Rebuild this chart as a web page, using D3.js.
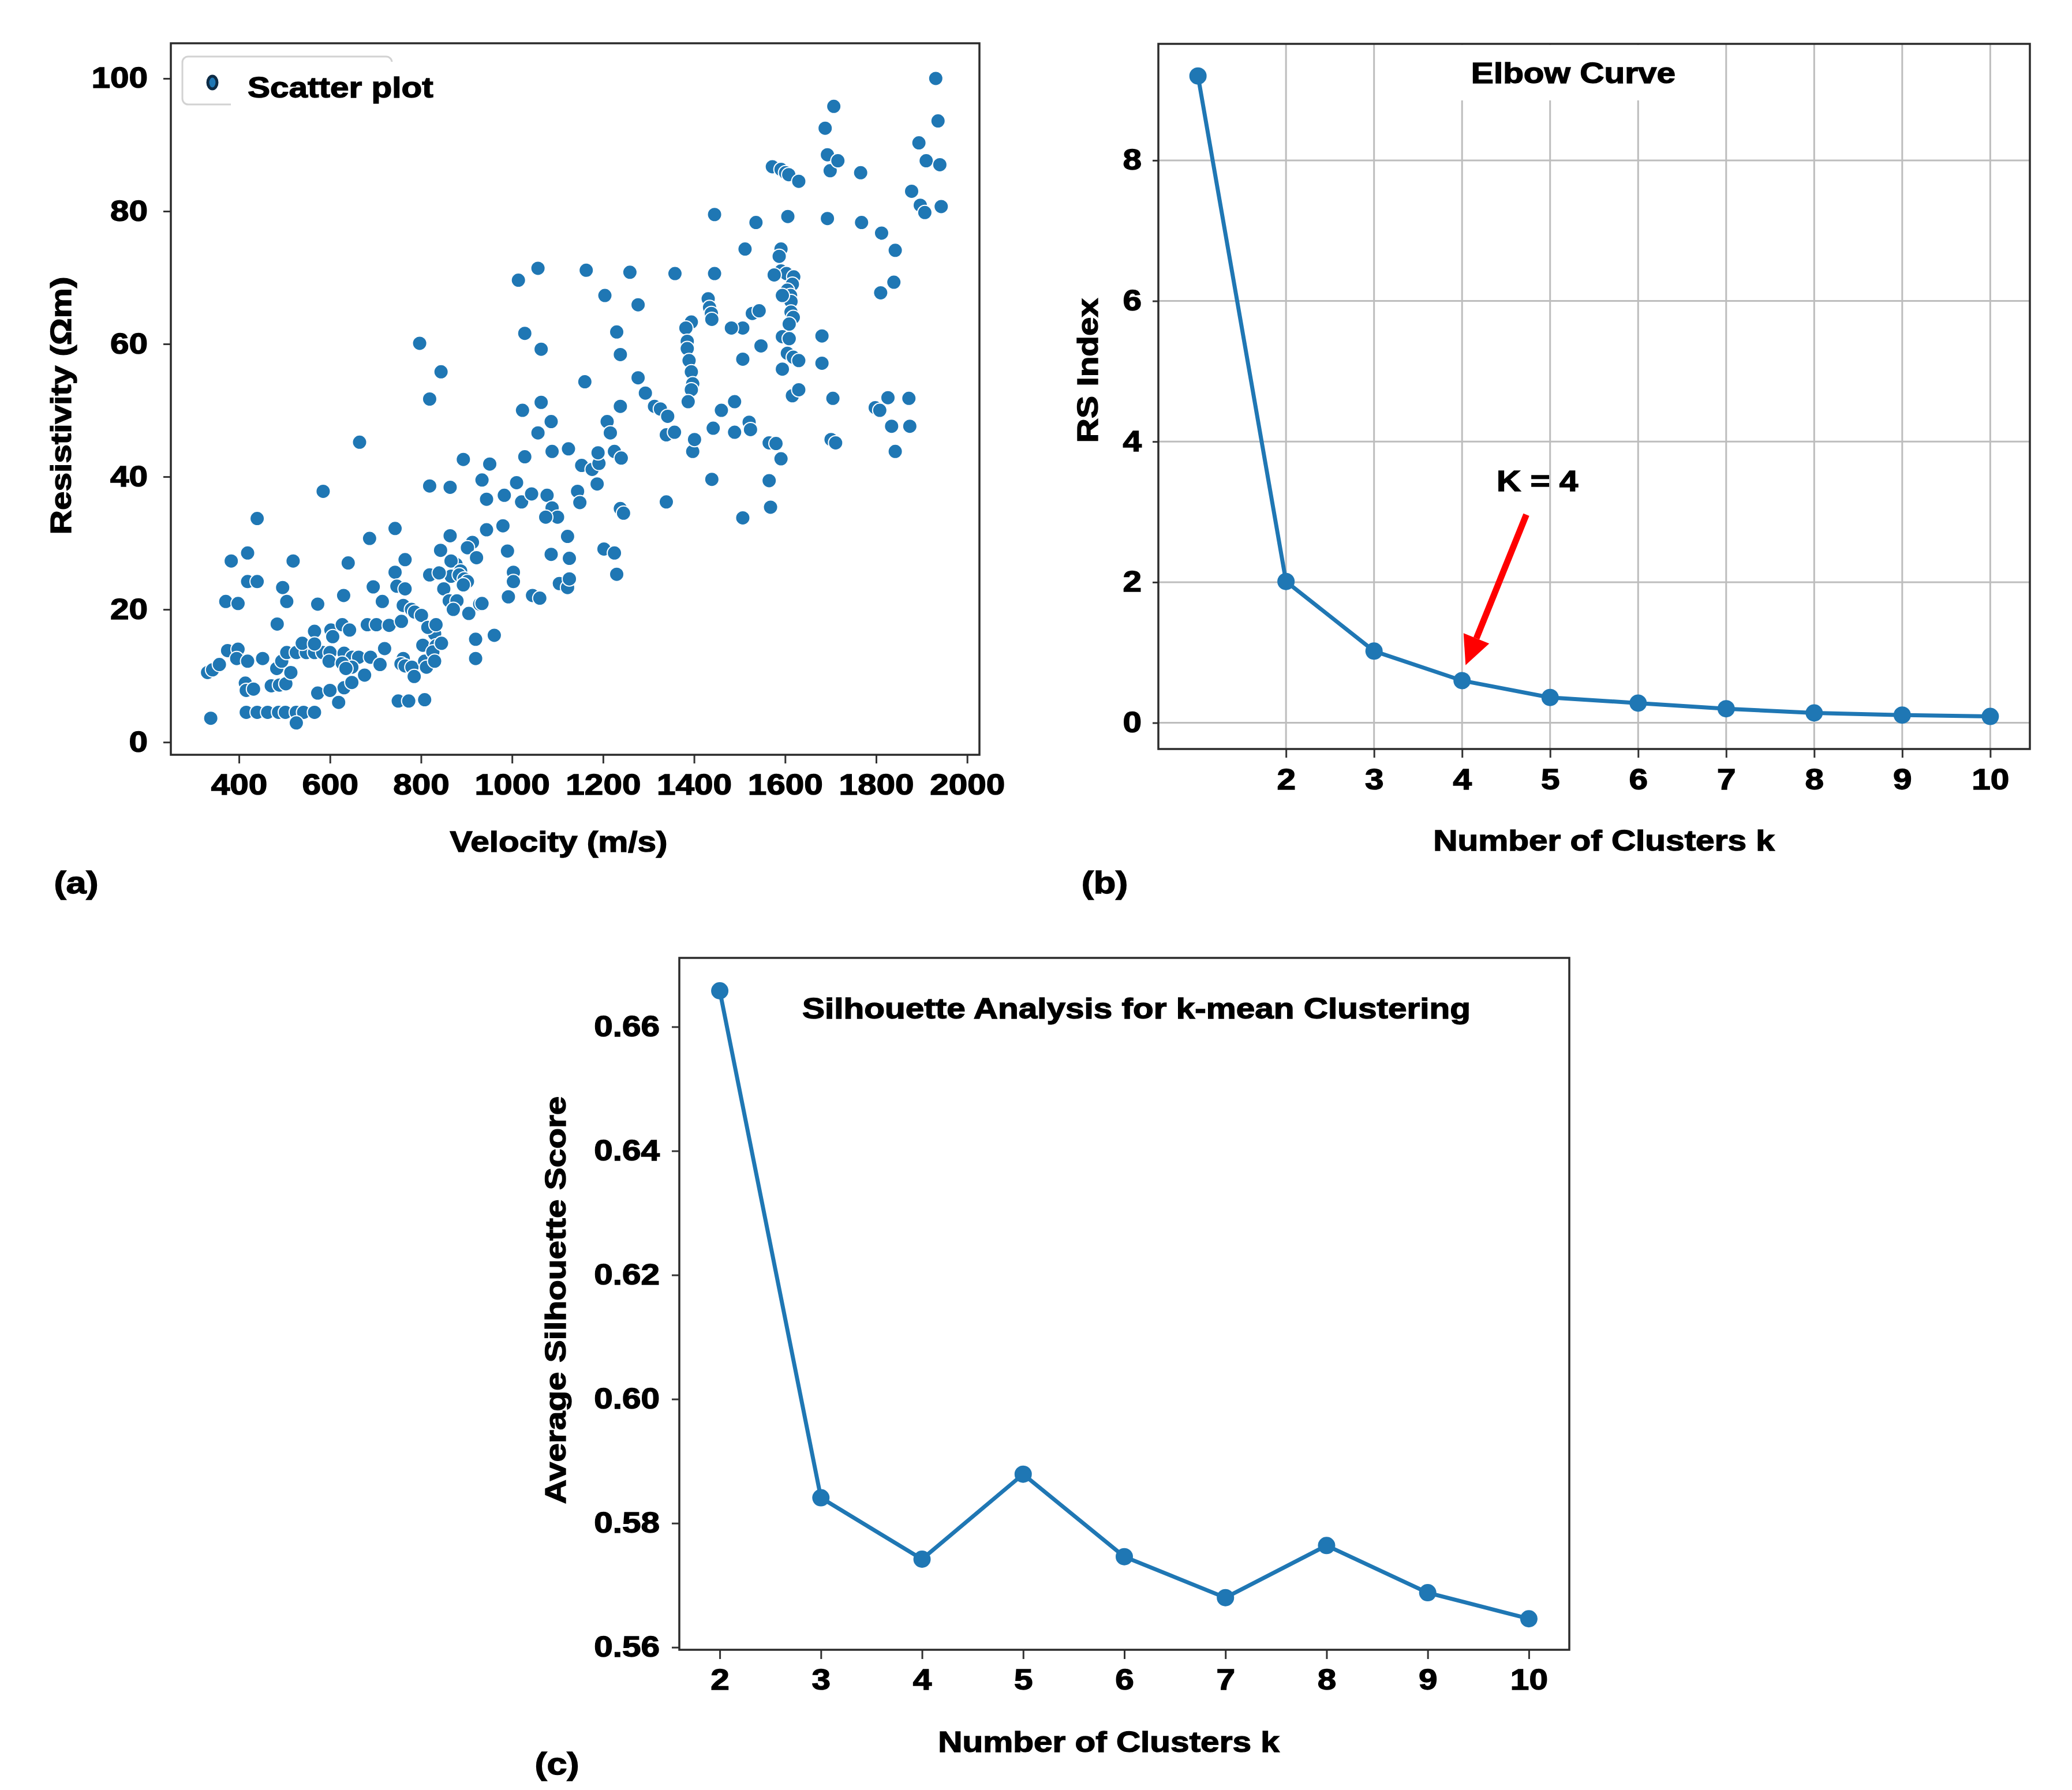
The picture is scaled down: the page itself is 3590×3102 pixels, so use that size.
<!DOCTYPE html>
<meta charset="utf-8">
<style>
  body { margin: 0; background: #fff; }
  text { font-family: "Liberation Sans", Arial, sans-serif; font-weight: bold; fill: #000;
         stroke: #000; stroke-width: 1.4px; }
</style>
<svg width="3590" height="3102"></svg>
<script src="https://d3js.org/d3.v7.min.js"></script>
<script>

// ---- data ----
// (a) scatter: velocity (m/s) vs resistivity (ohm m)
var velocity = [
  416, 440, 463, 487, 502, 526, 542, 566, 526, 338, 414, 416, 432, 471, 489, 503,
  331, 342, 357, 375, 398, 395, 419, 452, 483, 494, 505, 526, 548, 566, 584, 600,
  514, 484, 539, 566, 566, 602, 606, 598, 627, 643, 631, 649, 663, 689, 710, 648,
  627, 635, 631, 648, 676, 573, 600, 619, 682, 702, 730, 720, 757, 761, 779, 786,
  801, 761, 756, 765, 780, 785, 750, 773, 808, 804, 808, 812, 830, 833, 826, 830,
  815, 833, 845, 743, 747, 765, 765, 695, 715, 743, 687, 640, 630, 573, 519, 505,
  496, 440, 419, 383, 419, 440, 371, 398, 585, 665, 819, 864, 843, 864, 893, 934,
  944, 951, 944, 913, 902, 922, 877, 866, 887, 866, 884, 895, 902, 893, 819, 840,
  850, 862, 879, 871, 905, 929, 934, 920, 920, 961, 980, 983, 990, 1003, 1003, 992,
  1010, 1021, 1043, 1028, 1088, 1077, 1088, 1100, 1074, 1045, 1061, 1086, 1104, 1122, 1126, 1122,
  1126, 1124, 1144, 1149, 1153, 1176, 1191, 1189, 1187, 1202, 1225, 1230, 1225, 1240, 1238, 1245,
  1339, 1357, 1339,
  1014, 1057, 1163, 1259, 1358, 1204, 1277, 1028, 1230, 1064, 1238, 797, 844, 819, 1160, 1277,
  1293, 1313, 1326, 1342, 1023, 1064, 1086, 1238, 1209, 1216, 1057,
  1931, 1707, 1688, 1936, 1894, 1910, 1940, 1693, 1699, 1716, 1766, 1572, 1591, 1601, 1608, 1630,
  1878, 1897, 1907, 1943, 1445, 1536, 1606, 1693, 1768, 1812, 1512, 1591, 1842, 1587, 1591, 1603,
  1576, 1619, 1616, 1605, 1612, 1613, 1594, 1839, 1810, 1681, 1705, 1701, 1711, 1798, 1808, 1826,
  1872, 1834, 1874, 1842, 1681, 1613, 1618, 1609, 1594, 1609, 1605, 1594, 1618, 1630, 1616, 1630,
  1565, 1580, 1591, 1565, 1568, 1547, 1528, 1543, 1507, 1482, 1507, 1489, 1460, 1442, 1489, 1521,
  1524, 1507, 1439, 1431, 1434, 1438, 1439, 1445, 1394, 1382, 1385, 1385, 1389, 1394, 1397, 1394,
  1387, 1397, 1401
];
var resistivity = [
  4.5, 4.5, 4.5, 4.5, 4.5, 4.5, 4.5, 4.5, 2.9, 3.6, 8.9, 7.8, 8.0, 8.5, 8.6, 8.8,
  10.5, 10.9, 11.7, 13.8, 14.0, 12.6, 12.2, 12.6, 11.1, 12.2, 13.5, 13.5, 13.5, 13.5, 13.5, 13.5,
  10.5, 17.8, 14.9, 16.7, 14.8, 16.9, 15.9, 12.2, 17.7, 16.9, 13.4, 12.8, 12.8, 12.8, 11.7, 11.3,
  11.9, 11.1, 8.2, 9.0, 10.1, 7.4, 7.8, 6.0, 17.7, 17.7, 17.6, 14.1, 18.2, 20.6, 20.0, 19.6,
  19.1, 12.6, 11.8, 11.5, 11.3, 9.9, 6.2, 6.2, 6.4, 14.6, 12.2, 11.3, 16.3, 14.5, 13.6, 12.2,
  17.3, 17.7, 14.9, 25.6, 23.5, 23.1, 27.5, 23.4, 21.2, 32.2, 30.7, 27.0, 22.1, 20.8, 27.3, 21.2,
  23.3, 33.7, 28.5, 27.3, 24.2, 24.2, 21.2, 20.9, 37.8, 45.2, 38.6, 38.4, 28.9, 31.1, 42.6, 39.5,
  36.6, 41.9, 32.0, 30.1, 29.3, 27.8, 26.8, 27.3, 25.8, 25.0, 25.2, 24.6, 24.2, 23.7, 25.2, 25.5,
  23.1, 21.3, 21.3, 20.0, 19.4, 20.8, 20.9, 15.5, 12.6, 16.1, 32.6, 37.2, 28.8, 25.6, 24.2, 21.9,
  39.1, 36.2, 37.4, 43.0, 43.8, 37.2, 35.3, 33.9, 33.9, 22.1, 21.7, 28.3, 23.9, 23.3, 24.6, 31.0,
  27.7, 44.2, 37.8, 36.1, 41.7, 41.1, 42.0, 43.6, 38.9, 29.1, 28.5, 25.3, 43.8, 42.8, 35.2, 34.5,
  46.3, 46.7, 36.2,
  69.6, 71.4, 71.1, 70.8, 70.6, 67.3, 65.9, 61.6, 61.8, 59.2, 58.4, 60.1, 55.8, 51.7, 54.3, 54.9,
  52.6, 50.6, 50.2, 49.1, 50.0, 51.2, 48.3, 50.6, 48.3, 46.6, 46.6,
  100.0, 95.8, 92.5, 93.6, 90.3, 87.6, 87.0, 88.5, 86.1, 87.6, 85.8, 86.7, 86.3, 85.8, 85.5, 84.5,
  83.0, 80.9, 79.8, 80.7, 79.5, 78.3, 79.2, 78.9, 78.3, 76.7, 74.3, 74.3, 74.1, 73.2, 71.0, 70.6,
  70.4, 70.1, 69.0, 68.1, 67.3, 66.4, 67.3, 69.3, 67.7, 61.2, 51.8, 45.6, 45.1, 50.4, 50.0, 51.9,
  51.8, 47.6, 47.6, 43.8, 57.1, 64.8, 64.0, 63.0, 61.1, 60.8, 58.6, 56.2, 58.0, 57.5, 52.2, 53.1,
  45.1, 45.0, 42.7, 39.4, 35.4, 59.7, 64.6, 65.0, 62.4, 62.4, 57.7, 51.3, 50.0, 47.3, 46.7, 48.2,
  47.1, 33.8, 39.6, 66.8, 65.5, 64.6, 63.7, 70.6, 63.3, 62.4, 60.4, 59.3, 57.5, 55.8, 54.0, 53.1,
  51.3, 43.8, 45.6
];
var scatterXTicks = [400, 600, 800, 1000, 1200, 1400, 1600, 1800, 2000];
var scatterYTicks = [0, 20, 40, 60, 80, 100];

// (b) elbow curve
var elbowK = [1, 2, 3, 4, 5, 6, 7, 8, 9, 10];
var rsIndex = [9.2, 2.01, 1.02, 0.60, 0.36, 0.28, 0.20, 0.14, 0.11, 0.09];
var elbowXTicks = [2, 3, 4, 5, 6, 7, 8, 9, 10];
var elbowYTicks = [0, 2, 4, 6, 8];

// (c) silhouette
var silK = [2, 3, 4, 5, 6, 7, 8, 9, 10];
var silScore = [0.6658, 0.5841, 0.5742, 0.5879, 0.5746, 0.5680, 0.5764, 0.5688, 0.5646];
var silXTicks = [2, 3, 4, 5, 6, 7, 8, 9, 10];
var silYTicks = [0.56, 0.58, 0.60, 0.62, 0.64, 0.66];

// ---- style ----
var svg = d3.select("svg");
var blue = "#1f77b4";
var frameColor = "#2b2b2b";
var gridColor = "#bdbdbd";
var tickColor = "#333";
var fontSize = 50;
var stretch = 1.17;   // the figure's bold font is wider than Liberation Sans

svg.append("rect").attr("width", 3590).attr("height", 3102).attr("fill", "#fff");

function widen(sel, origin) {
  sel.style("transform-box", "fill-box")
     .style("transform-origin", origin || "center")
     .style("transform", "scaleX(" + stretch + ")");
}

function label(x, y, txt, size, rotate, anchor) {
  var g = svg.append("g")
      .attr("transform", "translate(" + x + "," + y + ")" + (rotate ? " rotate(-90)" : ""));
  var t = g.append("text")
      .attr("text-anchor", anchor || "middle")
      .attr("dy", "0.35em")
      .style("font-size", (size || fontSize) + "px")
      .text(txt);
  widen(t, anchor == "start" ? "left center" : "center");
  return t;
}

function axes(box, x, y, o) {
  var gx = svg.append("g")
      .attr("transform", "translate(0," + box.bottom + ")")
      .call(d3.axisBottom(x).tickValues(o.xTicks).tickSize(o.xTickSize)
            .tickPadding(o.xPad).tickFormat(o.xFormat));
  var gy = svg.append("g")
      .attr("transform", "translate(" + box.left + ",0)")
      .call(d3.axisLeft(y).tickValues(o.yTicks).tickSize(o.yTickSize)
            .tickPadding(o.yPad).tickFormat(o.yFormat));
  [gx, gy].forEach(function(g) {
    g.select(".domain").remove();
    g.selectAll(".tick line").attr("stroke", tickColor).attr("stroke-width", 3);
    g.selectAll(".tick text").style("font-size", fontSize + "px");
  });
  widen(gx.selectAll(".tick text"));
  widen(gy.selectAll(".tick text"), "right center");
}

function frame(box) {
  svg.append("rect")
      .attr("x", box.left).attr("y", box.top)
      .attr("width", box.right - box.left).attr("height", box.bottom - box.top)
      .attr("fill", "none")
      .attr("stroke", frameColor)
      .attr("stroke-width", 3.5);
}

// ================= (a) scatter =================
var boxA = {left: 296, right: 1697, top: 75, bottom: 1308};
var xA = d3.scaleLinear().domain([250.3, 2027]).range([boxA.left, boxA.right]);
var yA = d3.scaleLinear().domain([-1.9, 105.3]).range([boxA.bottom, boxA.top]);

svg.append("g").selectAll("circle")
    .data(d3.range(velocity.length))
    .enter().append("circle")
    .attr("cx", function(i) { return xA(velocity[i]); })
    .attr("cy", function(i) { return yA(resistivity[i]); })
    .attr("r", 12.5)
    .attr("fill", blue)
    .attr("stroke", "#fff")
    .attr("stroke-width", 2);

axes(boxA, xA, yA, {
  xTicks: scatterXTicks, xTickSize: 15, xPad: 19, xFormat: d3.format("d"),
  yTicks: scatterYTicks, yTickSize: 13, yPad: 27, yFormat: d3.format("d")
});

// legend (frame partly hidden behind the label, as in the figure)
var leg = svg.append("g");
leg.append("rect")
    .attr("x", boxA.left + 20).attr("y", boxA.top + 23)
    .attr("width", 363).attr("height", 83).attr("rx", 10)
    .attr("fill", "#fff").attr("stroke", "#d2d2d2").attr("stroke-width", 3);
leg.append("rect")
    .attr("x", boxA.left + 104).attr("y", boxA.top + 32)
    .attr("width", 292).attr("height", 82)
    .attr("fill", "#fff");
leg.append("ellipse")
    .attr("cx", boxA.left + 72).attr("cy", boxA.top + 68)
    .attr("rx", 8).attr("ry", 11)
    .attr("fill", blue).attr("stroke", "#0d2b45").attr("stroke-width", 5);
label(boxA.left + 133, boxA.top + 76, "Scatter plot", fontSize, false, "start");

frame(boxA);
label(968, 1458, "Velocity (m/s)");
label(105, 703, "Resistivity (\u03A9m)", fontSize, true);
label(132, 1529, "(a)", 54);

// ================= (b) elbow =================
var boxB = {left: 2007, right: 3517, top: 76, bottom: 1298};
var xB = d3.scaleLinear().domain([0.55, 10.45]).range([boxB.left, boxB.right]);
var yB = d3.scaleLinear().domain([-0.373, 9.657]).range([boxB.bottom, boxB.top]);

var grid = svg.append("g").attr("stroke", gridColor).attr("stroke-width", 3);
grid.selectAll(".gx").data(elbowXTicks).enter().append("line")
    .attr("x1", xB).attr("x2", xB)
    .attr("y1", boxB.top).attr("y2", boxB.bottom);
grid.selectAll(".gy").data(elbowYTicks).enter().append("line")
    .attr("x1", boxB.left).attr("x2", boxB.right)
    .attr("y1", yB).attr("y2", yB);

// title with white background box
var titleB = label((boxB.left + boxB.right) / 2 - 36, boxB.top + 50, "Elbow Curve");
var tb = titleB.node().getBBox();
svg.insert("rect", function() { return titleB.node().parentNode; })
    .attr("x", (boxB.left + boxB.right) / 2 - 36 - tb.width * stretch / 2 - 35)
    .attr("y", boxB.top + 2)
    .attr("width", tb.width * stretch + 70)
    .attr("height", 96)
    .attr("fill", "#fff");

var lineB = d3.line()
    .x(function(d, i) { return xB(elbowK[i]); })
    .y(function(d) { return yB(d); });
svg.append("path")
    .datum(rsIndex)
    .attr("d", lineB)
    .attr("fill", "none")
    .attr("stroke", blue)
    .attr("stroke-width", 7);
svg.append("g").selectAll("circle")
    .data(rsIndex)
    .enter().append("circle")
    .attr("cx", function(d, i) { return xB(elbowK[i]); })
    .attr("cy", yB)
    .attr("r", 15)
    .attr("fill", blue);

axes(boxB, xB, yB, {
  xTicks: elbowXTicks, xTickSize: 15, xPad: 20, xFormat: d3.format("d"),
  yTicks: elbowYTicks, yTickSize: 10, yPad: 19, yFormat: d3.format("d")
});

// K = 4 annotation with red arrow
var tail = [xB(4.73), yB(2.96)], tip = [xB(4.04), yB(0.82)];
var ang = Math.atan2(tip[1] - tail[1], tip[0] - tail[0]);
var headLen = 50, headHalf = 24, shaft = 11;
var base = [tip[0] - headLen * Math.cos(ang), tip[1] - headLen * Math.sin(ang)];
var nx = -Math.sin(ang), ny = Math.cos(ang);
svg.append("line")
    .attr("x1", tail[0]).attr("y1", tail[1])
    .attr("x2", base[0]).attr("y2", base[1])
    .attr("stroke", "#ff0000").attr("stroke-width", shaft);
svg.append("path")
    .attr("d", "M" + tip[0] + "," + tip[1] +
               "L" + (base[0] + nx * headHalf) + "," + (base[1] + ny * headHalf) +
               "L" + (base[0] - nx * headHalf) + "," + (base[1] - ny * headHalf) + "Z")
    .attr("fill", "#ff0000");
label(xB(4.855), yB(3.44), "K = 4");

frame(boxB);
label(2779, 1456, "Number of Clusters k");
label(1884, 642, "RS Index", fontSize, true);
label(1914, 1529, "(b)", 54);

// ================= (c) silhouette =================
var boxC = {left: 1177, right: 2719, top: 1660, bottom: 2859};
var xC = d3.scaleLinear().domain([1.6, 10.4]).range([boxC.left, boxC.right]);
var yC = d3.scaleLinear().domain([0.5596, 0.6711]).range([boxC.bottom, boxC.top]);

var lineC = d3.line()
    .x(function(d, i) { return xC(silK[i]); })
    .y(function(d) { return yC(d); });
svg.append("path")
    .datum(silScore)
    .attr("d", lineC)
    .attr("fill", "none")
    .attr("stroke", blue)
    .attr("stroke-width", 7);
svg.append("g").selectAll("circle")
    .data(silScore)
    .enter().append("circle")
    .attr("cx", function(d, i) { return xC(silK[i]); })
    .attr("cy", yC)
    .attr("r", 15)
    .attr("fill", blue);

axes(boxC, xC, yC, {
  xTicks: silXTicks, xTickSize: 16, xPad: 18, xFormat: d3.format("d"),
  yTicks: silYTicks, yTickSize: 13, yPad: 21, yFormat: d3.format(".2f")
});

frame(boxC);
label(1969, 1747, "Silhouette Analysis for k-mean Clustering");
label(1921, 3018, "Number of Clusters k");
label(962, 2253, "Average Silhouette Score", fontSize, true);
label(965, 3056, "(c)", 54);

</script>
